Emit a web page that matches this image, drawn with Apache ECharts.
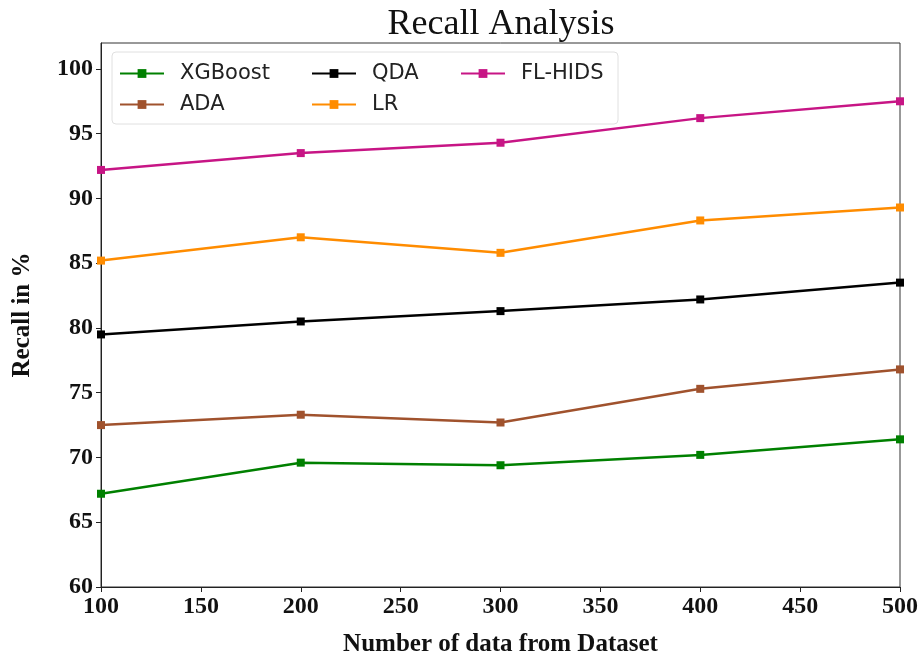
<!DOCTYPE html>
<html>
<head>
<meta charset="utf-8">
<script src="https://cdn.jsdelivr.net/npm/echarts@6/dist/echarts.min.js"></script>
<style>
  html, body { margin: 0; padding: 0; background: #fff; }
  #chart { width: 924px; height: 658px; }
</style>
</head>
<body>
<div id="chart"></div>
<script>
// Dataset sizes on the x axis
const sizes = [100, 200, 300, 400, 500];

// Recall (%) per model
const xgboost = [67.2, 69.6, 69.4, 70.2, 71.4];
const ada     = [72.5, 73.3, 72.7, 75.3, 76.8];
const qda     = [79.5, 80.5, 81.3, 82.2, 83.5];
const lr      = [85.2, 87.0, 85.8, 88.3, 89.3];
const flhids  = [92.2, 93.5, 94.3, 96.2, 97.5];

const seriesNames = ['XGBoost', 'ADA', 'QDA', 'LR', 'FL-HIDS'];
const seriesColors = ['#008000', '#a0522d', '#000000', '#ff8c00', '#c71585'];
const seriesValues = [xgboost, ada, qda, lr, flhids];

const serif = '"Liberation Serif", "Times New Roman", serif';
const sans = '"DejaVu Sans", sans-serif';

const chart = echarts.init(document.getElementById('chart'));

const series = seriesNames.map((name, i) => ({
  name: name,
  type: 'line',
  data: sizes.map((x, j) => [x, seriesValues[i][j]]),
  symbol: 'rect',
  symbolSize: 8,
  showSymbol: true,
  clip: false,
  lineStyle: { width: 2.5, color: seriesColors[i] },
  itemStyle: { color: seriesColors[i] },
  emphasis: { disabled: true },
  z: 3
}));

// One vertical legend per column, laid out like a three-column key
function legendColumn(names, left) {
  return {
    orient: 'vertical',
    left: left,
    top: 58,
    z: 11,
    data: names,
    itemWidth: 44,
    itemHeight: 11,
    itemGap: 10,
    textStyle: { fontFamily: sans, fontSize: 21, color: '#222', padding: [0, 0, 0, 11] },
    selectedMode: false
  };
}

chart.setOption({
  animation: false,
  backgroundColor: '#fff',
  title: {
    text: 'Recall Analysis',
    left: 496,
    textAlign: 'center',
    top: 2,
    textStyle: { fontFamily: serif, fontSize: 36, fontWeight: 'normal', color: '#111' }
  },
  graphic: [{
    type: 'rect',
    shape: { x: 112, y: 52, width: 506, height: 72, r: 4 },
    style: { fill: 'rgba(255,255,255,0.85)', stroke: '#e0e0e0', lineWidth: 1 },
    z: 10
  }],
  legend: [
    legendColumn(['XGBoost', 'ADA'], 114),
    legendColumn(['QDA', 'LR'], 306),
    legendColumn(['FL-HIDS'], 455)
  ],
  grid: {
    left: 101, right: 24, top: 43, bottom: 71,
    outerBoundsMode: 'none',
    containLabel: false,
    show: true, borderColor: '#333', borderWidth: 1, backgroundColor: 'transparent'
  },
  xAxis: {
    type: 'value',
    min: 100, max: 500, interval: 50,
    name: 'Number of data from Dataset',
    nameLocation: 'middle',
    nameGap: 45,
    nameTextStyle: { fontFamily: serif, fontSize: 25, fontWeight: 'bold', color: '#111' },
    axisLine: { show: true, lineStyle: { color: '#222', width: 1 } },
    axisTick: { show: true, length: 5, lineStyle: { color: '#222' } },
    splitLine: { show: false },
    axisLabel: { fontFamily: serif, fontSize: 24, fontWeight: 'bold', color: '#111', margin: 8 }
  },
  yAxis: {
    type: 'value',
    min: 60, max: 102, interval: 5,
    name: 'Recall in %',
    nameLocation: 'middle',
    nameGap: 66,
    nameTextStyle: { fontFamily: serif, fontSize: 25, fontWeight: 'bold', color: '#111' },
    axisLine: { show: true, lineStyle: { color: '#222', width: 1 } },
    axisTick: { show: true, length: 5, lineStyle: { color: '#222' } },
    splitLine: { show: false },
    axisLabel: {
      fontFamily: serif, fontSize: 24, fontWeight: 'bold', color: '#111', margin: 8,
      showMaxLabel: false,
      formatter: v => (v % 5 === 0 ? String(v) : '')
    }
  },
  series: series
});
</script>
</body>
</html>
